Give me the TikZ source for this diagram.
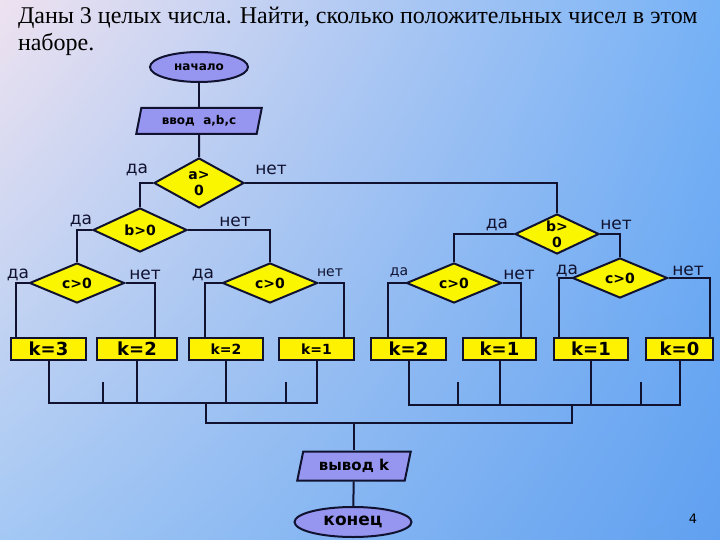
\documentclass[tikz,border=0pt]{standalone}
\usepackage{fontspec}
\setmainfont{Liberation Serif}
\setsansfont{DejaVu Sans}
\usetikzlibrary{shapes.geometric,shadings}

\definecolor{bgpink}{RGB}{238,226,240}
\definecolor{bgblue}{RGB}{118,178,246}
\definecolor{bgmid}{RGB}{164,200,244}
\definecolor{bgdeep}{RGB}{96,160,240}
\definecolor{flowline}{RGB}{16,18,48}
\definecolor{lilac}{RGB}{150,150,240}
\definecolor{ifyellow}{RGB}{250,246,0}

\begin{document}
\begin{tikzpicture}[x=1pt,y=-1pt,line width=2pt,draw=flowline]
    \tikzstyle{decision}=[diamond,draw,fill=ifyellow,aspect=2,inner sep=0pt,minimum width=95pt,minimum height=40pt,align=center,font=\sffamily\bfseries\fontsize{14}{16}\selectfont]
    \tikzstyle{kbox}=[rectangle,draw,fill=yellow,inner sep=0pt,minimum height=22pt,font=\sffamily\bfseries\fontsize{18}{18}\selectfont]
    \tikzstyle{small kbox}=[kbox,font=\sffamily\bfseries\fontsize{14}{14}\selectfont]
    \tikzstyle{terminal}=[ellipse,draw,fill=lilac,inner sep=0pt,minimum height=30pt]
    \tikzstyle{io}=[trapezium,trapezium left angle=73,trapezium right angle=107,trapezium stretches=true,draw,fill=lilac,inner sep=0pt]
    \tikzstyle{answer}=[font=\sffamily\fontsize{17}{17}\selectfont,text=flowline,inner sep=0pt]
    \tikzstyle{small answer}=[answer,font=\sffamily\fontsize{14}{14}\selectfont]

    % Background
    \shade[upper left=bgpink,upper right=bgblue,lower left=bgmid,lower right=bgdeep] (0,0) rectangle (720,540);
    \useasboundingbox (0,0) rectangle (720,540);

    % Task text
    \node[anchor=north west,inner sep=0pt,align=left,font=\fontsize{24}{27}\selectfont] (title) at (17,6)
        {Даны 3 целых числа. Найти, сколько положительных чисел в этом\\наборе.};

    % Start and input
    \node[terminal,minimum width=98pt,font=\sffamily\bfseries\fontsize{12}{12}\selectfont] (start) at (199,67) {начало};
    \node[io,minimum width=126pt,minimum height=26pt,font=\sffamily\bfseries\fontsize{12}{12}\selectfont] (input) at (199,121) {ввод\ \ a,b,c};

    % Draw the decisions
    \node[decision,minimum width=90pt,minimum height=50pt] (A) at (199,183) {a>\\0};
    \node[decision,minimum width=94pt,minimum height=44pt] (B-1) at (140,230) {b>0};
    \node[decision,minimum width=84pt,minimum height=40pt] (B-2) at (557,234) {b>\\0};
    \foreach \name / \x / \y in {1/77/283,2/270/283,3/454/283,4/620/278}
        \node[decision] (C-\name) at (\x,\y) {c>0};

    % Draw the results
    \foreach \name / \x / \w / \k in {1/48.5/75/3,2/137/80/2,5/408.5/75/2,6/499.5/73/1,7/591/74/1,8/679.5/67/0}
        \node[kbox,minimum width=\w pt] (K-\name) at (\x,349) {k=\k};
    \foreach \name / \x / \w / \k in {3/226/74/2,4/316.5/75/1}
        \node[small kbox,minimum width=\w pt] (K-\name) at (\x,349) {k=\k};

    % Output and end
    \node[io,minimum width=114pt,minimum height=29pt,font=\sffamily\bfseries\fontsize{15}{15}\selectfont] (output) at (354,466) {вывод k};
    \node[terminal,minimum width=117pt,font=\sffamily\bfseries\fontsize{17}{17}\selectfont] (finish) at (353,522) {конец};

    % Connect the blocks
    \draw (start) -- (input);
    \draw (input) -- (A);
    \draw (A.west) -| (B-1.north);
    \draw (A.east) -| (B-2.north);
    \draw (B-1.west) -| (C-1.north);
    \draw (B-1.east) -| (C-2.north);
    \draw (B-2.west) -| (C-3.north);
    \draw (B-2.east) -| (C-4.north);
    \draw (C-1.west) -| ([xshift=6pt]K-1.north west);
    \draw (C-1.east) -| ([xshift=-23pt]K-2.north east);
    \draw (C-2.west) -| ([xshift=17pt]K-3.north west);
    \draw (C-2.east) -| ([xshift=-11pt]K-4.north east);
    \draw (C-3.west) -| ([xshift=18pt]K-5.north west);
    \draw (C-3.east) -| ([xshift=-16pt]K-6.north east);
    \draw (C-4.west) -| ([xshift=6pt]K-7.north west);
    \draw (C-4.east) -| ([xshift=-4pt]K-8.north east);

    % Join the results
    \coordinate (barL) at (0,403);
    \coordinate (barR) at (0,405);
    \coordinate (barM) at (0,423);
    \coordinate (joinL) at (206,403);
    \coordinate (joinR) at (572,405);
    \draw (K-1.south) |- (barL -| K-4.south) -- (K-4.south);
    \draw (K-5.south) |- (barR -| K-8.south) -- (K-8.south);
    \foreach \k in {2,3}
        \draw (K-\k.south) -- (K-\k.south |- barL);
    \foreach \k in {6,7}
        \draw (K-\k.south) -- (K-\k.south |- barR);
    \foreach \name / \x in {1/103,2/286}
        \coordinate (stubL-\name) at (\x,382);
    \foreach \name / \x in {1/458,2/641}
        \coordinate (stubR-\name) at (\x,382);
    \foreach \name in {1,2} {
        \draw (stubL-\name) -- (stubL-\name |- barL);
        \draw (stubR-\name) -- (stubR-\name |- barR);
    }
    \draw (joinL) |- (joinR |- barM) -- (joinR);
    \draw (output) -- (output |- barM);
    \draw (output) -- (finish);

    % Annotate the branches
    \foreach \name / \x / \y in {A/137/170,B-1/81/221,B-2/497/225,C-1/18/275,C-2/203/275,C-4/567/271}
        \node[answer] (yes-\name) at (\x,\y) {да};
    \node[small answer] (yes-C-3) at (399,273) {да};
    \foreach \name / \x / \y in {A/271/170,B-1/235/222,B-2/616/225,C-1/145/275,C-3/519/275,C-4/688/271}
        \node[answer] (no-\name) at (\x,\y) {нет};
    \node[small answer] (no-C-2) at (330,273) {нет};

    \node[font=\sffamily\fontsize{13}{13}\selectfont,inner sep=0pt] (page) at (693,519) {4};
\end{tikzpicture}
\end{document}
